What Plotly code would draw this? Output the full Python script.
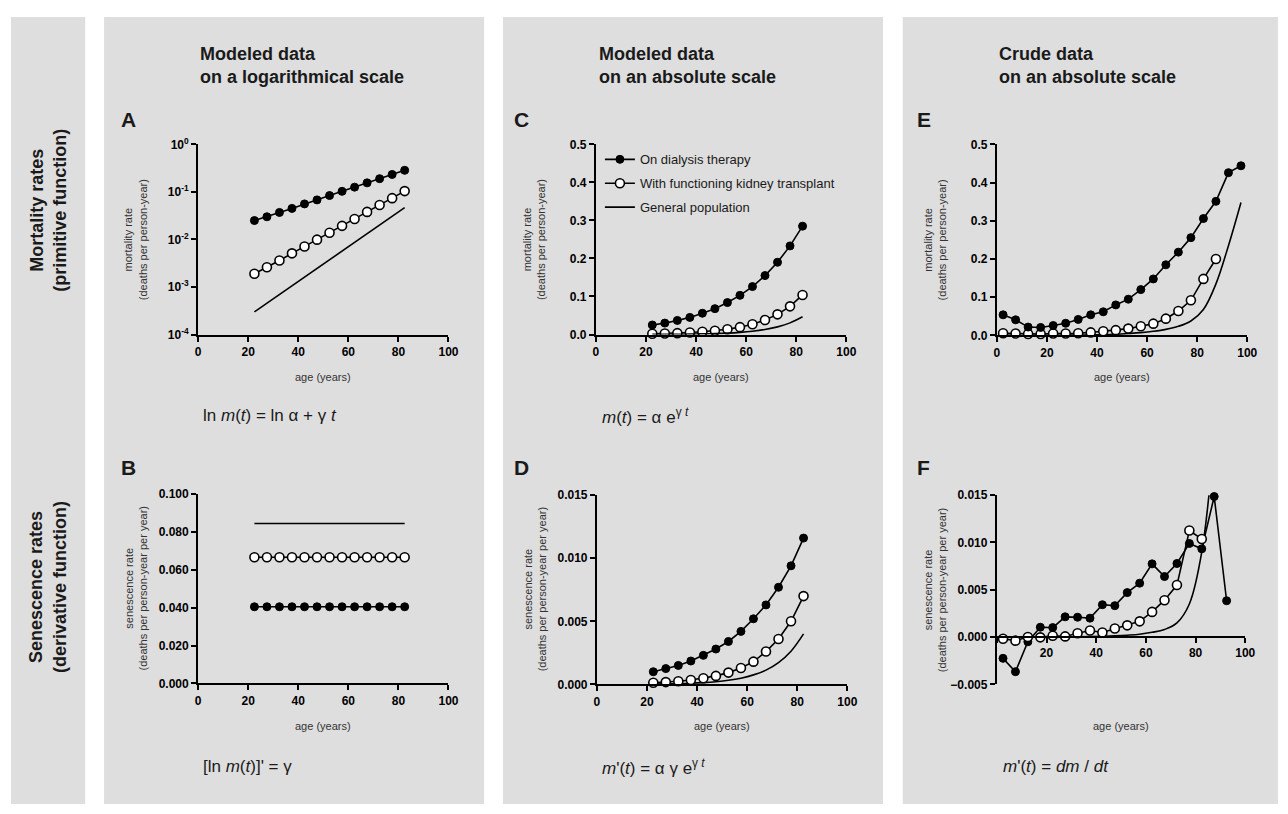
import plotly.graph_objects as go

# ---------------- data ----------------
ages_model = [22.5, 27.5, 32.5, 37.5, 42.5, 47.5, 52.5, 57.5, 62.5, 67.5, 72.5, 77.5, 82.5]

# modeled mortality rates (panels A and C)
mort_dialysis = [0.025, 0.030, 0.037, 0.045, 0.056, 0.068, 0.084, 0.103, 0.126, 0.155, 0.190, 0.233, 0.285]
mort_transplant = [0.0019, 0.0026, 0.0036, 0.0051, 0.0071, 0.0099, 0.0138, 0.0193, 0.027, 0.038, 0.053, 0.074, 0.104]
mort_general = [0.0003, 0.00046, 0.0007, 0.00106, 0.0016, 0.00245, 0.0037, 0.0057, 0.0087, 0.0132, 0.0201, 0.0306, 0.0466]

# senescence rates on log scale (panel B)
gamma_dialysis = [0.0405, 0.0405, 0.0405, 0.0405, 0.0405, 0.0405, 0.0405, 0.0405, 0.0405, 0.0405, 0.0405, 0.0405, 0.0405]
gamma_transplant = [0.0667, 0.0667, 0.0667, 0.0667, 0.0667, 0.0667, 0.0667, 0.0667, 0.0667, 0.0667, 0.0667, 0.0667, 0.0667]
gamma_general = [0.0845, 0.0845]
ages_gamma_general = [22.5, 82.5]

# modeled senescence rates (panel D)
sen_dialysis = [0.0010, 0.00125, 0.0015, 0.00185, 0.0023, 0.0028, 0.0034, 0.0042, 0.0052, 0.0063, 0.0077, 0.0094, 0.0116]
sen_transplant = [0.00013, 0.00018, 0.00025, 0.00034, 0.00048, 0.00067, 0.00093, 0.0013, 0.0018, 0.0026, 0.0036, 0.0050, 0.0070]
sen_general = [0.000026, 0.00004, 0.00006, 0.00009, 0.00014, 0.00021, 0.00032, 0.00049, 0.00075, 0.00113, 0.00173, 0.00263, 0.0040]

# crude mortality rates (panel E)
ages_crude = [2.5, 7.5, 12.5, 17.5, 22.5, 27.5, 32.5, 37.5, 42.5, 47.5,
              52.5, 57.5, 62.5, 67.5, 72.5, 77.5, 82.5, 87.5, 92.5, 97.5]
crude_dialysis = [0.054, 0.041, 0.022, 0.021, 0.026, 0.032, 0.042, 0.054, 0.062, 0.080,
                  0.095, 0.120, 0.148, 0.185, 0.218, 0.256, 0.306, 0.351, 0.426, 0.444]
ages_crude_tx = [2.5, 7.5, 12.5, 17.5, 22.5, 27.5, 32.5, 37.5, 42.5, 47.5,
                 52.5, 57.5, 62.5, 67.5, 72.5, 77.5, 82.5, 87.5]
crude_transplant = [0.006, 0.005, 0.004, 0.004, 0.005, 0.005, 0.006, 0.008, 0.011, 0.014,
                    0.018, 0.024, 0.031, 0.044, 0.064, 0.092, 0.148, 0.200]
crude_general = [0.001, 0.0002, 0.0002, 0.0005, 0.0007, 0.0008, 0.001, 0.0014, 0.0021, 0.0033,
                 0.0052, 0.0075, 0.011, 0.016, 0.024, 0.038, 0.068, 0.135, 0.235, 0.348]

# crude senescence rates (panel F)
ages_dm_dialysis = [2.5, 7.5, 12.5, 17.5, 22.5, 27.5, 32.5, 37.5, 42.5, 47.5,
                    52.5, 57.5, 62.5, 67.5, 72.5, 77.5, 82.5, 87.5, 92.5]
dm_dialysis = [-0.00225, -0.00366, -0.0005, 0.00104, 0.0010, 0.00214, 0.0021, 0.0020, 0.00342, 0.00332,
               0.0047, 0.0057, 0.00774, 0.0064, 0.00778, 0.0099, 0.00933, 0.01486, 0.00384]
ages_dm_tx = [2.5, 7.5, 12.5, 17.5, 22.5, 27.5, 32.5, 37.5, 42.5, 47.5,
              52.5, 57.5, 62.5, 67.5, 72.5, 77.5, 82.5]
dm_transplant = [-0.00017, -0.00038, 0.0, -0.00003, 0.00014, 0.00007, 0.00041, 0.00069, 0.00048, 0.0009,
                 0.00124, 0.00166, 0.00266, 0.0039, 0.0055, 0.01127, 0.01037]
ages_dm_general = [2.5, 7.5, 12.5, 17.5, 22.5, 27.5, 32.5, 37.5, 42.5, 47.5,
                   52.5, 57.5, 62.5, 67.5, 72.5, 77.5, 82.5, 87.5]
dm_general = [0.0, 0.0, 0.0, 0.0, 0.00001, 0.00002, 0.00003, 0.00005, 0.00008, 0.00013,
              0.0002, 0.0003, 0.0005, 0.0008, 0.0015, 0.0035, 0.009, 0.021]

legend_names = ["On dialysis therapy", "With functioning kidney transplant", "General population"]
column_titles = ["Modeled data<br>on a logarithmical scale",
                 "Modeled data<br>on an absolute scale",
                 "Crude data<br>on an absolute scale"]
row_titles = ["Mortality rates<br>(primitive function)",
              "Senescence rates<br>(derivative function)"]
panel_letters = ["A", "B", "C", "D", "E", "F"]
x_title = "age (years)"
y_title_mort = "mortality rate<br>(deaths per person-year)"
y_title_sen = "senescence rate<br>(deaths per person-year per year)"
formulas = ["ln <i>m</i>(<i>t</i>) = ln α + γ <i>t</i>",
            "[ln <i>m</i>(<i>t</i>)]' = γ",
            "<i>m</i>(<i>t</i>) = α e<sup>γ <i>t</i></sup>",
            "<i>m</i>'(<i>t</i>) = α γ e<sup>γ <i>t</i></sup>",
            "",
            "<i>m</i>'(<i>t</i>) = <i>dm</i> / <i>dt</i>"]

# ---------------- layout helpers ----------------
# the page keeps the browser's 8px body margin, so the figure is 16px smaller
OFF = 8
W, H = 1288 - 2 * OFF, 814 - 2 * OFF
FONT = "Liberation Sans, Arial, sans-serif"


def fx(p):
    return (p - OFF) / W


def fy(p):
    return 1 - (p - OFF) / H


# pixel boxes (page coordinates) of each plotting area: (x0, x1, ytop, ybottom)
boxes = [(197, 450, 138, 332), (197, 450, 495, 688),
         (599, 852, 138, 332), (600, 853, 496, 689),
         (1004, 1257, 138, 333), (1004, 1255, 496, 689)]

fig = go.Figure()


def add_dialysis(i, x, y, legend=False):
    fig.add_trace(go.Scatter(
        x=x, y=y, mode="lines+markers", name=legend_names[0], showlegend=legend,
        legendgroup="g1", line=dict(color="black", width=1.6),
        marker=dict(symbol="circle", size=8, color="black", line=dict(color="black", width=1)),
        cliponaxis=False, xaxis=f"x{i}", yaxis=f"y{i}"))


def add_transplant(i, x, y, legend=False):
    fig.add_trace(go.Scatter(
        x=x, y=y, mode="lines+markers", name=legend_names[1], showlegend=legend,
        legendgroup="g2", line=dict(color="black", width=1.6),
        marker=dict(symbol="circle", size=9, color="white", line=dict(color="black", width=1.6)),
        cliponaxis=False, xaxis=f"x{i}", yaxis=f"y{i}"))


def add_general(i, x, y, legend=False, shape="linear"):
    fig.add_trace(go.Scatter(
        x=x, y=y, mode="lines", name=legend_names[2], showlegend=legend,
        legendgroup="g3", line=dict(color="black", width=1.6, shape=shape),
        xaxis=f"x{i}", yaxis=f"y{i}"))


# A
add_general(1, [ages_model[0], ages_model[-1]], [mort_general[0], mort_general[-1]])
add_transplant(1, ages_model, mort_transplant)
add_dialysis(1, ages_model, mort_dialysis)
# B
add_general(2, ages_gamma_general, gamma_general)
add_transplant(2, ages_model, gamma_transplant)
add_dialysis(2, ages_model, gamma_dialysis)
# C (legend)
add_dialysis(3, ages_model, mort_dialysis, legend=True)
add_transplant(3, ages_model, mort_transplant, legend=True)
add_general(3, ages_model, mort_general, legend=True, shape="spline")
# D
add_general(4, ages_model, sen_general, shape="spline")
add_transplant(4, ages_model, sen_transplant)
add_dialysis(4, ages_model, sen_dialysis)
# E
add_general(5, ages_crude, crude_general, shape="spline")
add_transplant(5, ages_crude_tx, crude_transplant)
add_dialysis(5, ages_crude, crude_dialysis)
# F
add_general(6, ages_dm_general, dm_general, shape="spline")
add_dialysis(6, ages_dm_dialysis, dm_dialysis)
add_transplant(6, ages_dm_tx, dm_transplant)

axis_common = dict(showline=True, linecolor="black", linewidth=2, ticks="outside",
                   ticklen=5, tickwidth=2, tickcolor="black", showgrid=False,
                   zeroline=False, fixedrange=True,
                   tickfont=dict(family=FONT, size=12, color="black", weight="bold"))

ytick_specs = [
    dict(type="log", range=[-4, 0], tickvals=[1e-4, 1e-3, 1e-2, 1e-1, 1],
         ticktext=["10<sup>-4</sup>", "10<sup>-3</sup>", "10<sup>-2</sup>", "10<sup>-1</sup>", "10<sup>0</sup>"]),
    dict(range=[0, 0.1], tickvals=[0, 0.02, 0.04, 0.06, 0.08, 0.1], tickformat=".3f"),
    dict(range=[0, 0.5], tickvals=[0, 0.1, 0.2, 0.3, 0.4, 0.5], tickformat=".1f"),
    dict(range=[0, 0.015], tickvals=[0, 0.005, 0.010, 0.015], tickformat=".3f"),
    dict(range=[0, 0.5], tickvals=[0, 0.1, 0.2, 0.3, 0.4, 0.5], tickformat=".1f"),
    dict(range=[-0.005, 0.015], tickvals=[-0.005, 0, 0.005, 0.010, 0.015], tickformat=".3f"),
]

layout_axes = {}
for k, (x0, x1, yt, yb) in enumerate(boxes):
    i = k + 1
    xa = dict(axis_common, domain=[fx(x0), fx(x1)], range=[0, 100],
              tickvals=[0, 20, 40, 60, 80, 100], anchor=f"y{i}")
    if i == 6:
        zero_px = yt + (yb - yt) * (0.015 - 0) / 0.020
        xa.update(anchor="free", position=fy(zero_px),
                  ticktext=["", "20", "40", "60", "80", "100"])
    ya = dict(axis_common, domain=[fy(yb), fy(yt)], anchor=f"x{i}")
    ya.update(ytick_specs[k])
    suffix = "" if i == 1 else str(i)
    layout_axes["xaxis" + suffix] = xa
    layout_axes["yaxis" + suffix] = ya

# background panels
shapes = []
for (a, b) in [(8, 83), (102, 486), (505, 889), (909, 1288)]:
    shapes.append(dict(type="rect", xref="paper", yref="paper", x0=fx(a), x1=fx(b),
                       y0=fy(811), y1=fy(8), fillcolor="#dedede", line=dict(width=0),
                       layer="below"))

annotations = []
TXT = "#1a1a1a"
# column titles
for k, xpx in enumerate([197, 600, 1004]):
    annotations.append(dict(text="<b>" + column_titles[k] + "</b>", x=fx(xpx), y=fy(57),
                            xref="paper", yref="paper", xanchor="left", yanchor="middle",
                            align="left", showarrow=False,
                            font=dict(family=FONT, size=18, color=TXT)))
# row titles
for k, ypx in enumerate([205, 590]):
    annotations.append(dict(text="<b>" + row_titles[k] + "</b>", x=fx(45), y=fy(ypx),
                            xref="paper", yref="paper", xanchor="center", yanchor="middle",
                            textangle=-90, showarrow=False,
                            font=dict(family=FONT, size=18, color=TXT)))
# panel letters, axis titles, formulas
letter_pos = [(127, 113), (127, 468), (524, 113), (524, 468), (930, 113), (930, 468)]
ytitle_x = [134, 134, 537, 537, 941, 941]
formula_pos = [(200, 415), (200, 773), (603, 415), (603, 773), (1008, 415), (1008, 773)]
for k in range(6):
    x0, x1, yt, yb = boxes[k]
    lx, ly = letter_pos[k]
    annotations.append(dict(text="<b>" + panel_letters[k] + "</b>", x=fx(lx), y=fy(ly),
                            xref="paper", yref="paper", xanchor="center", yanchor="middle",
                            showarrow=False, font=dict(family=FONT, size=21, color=TXT)))
    top = k % 2 == 0
    annotations.append(dict(text=x_title, x=fx((x0 + x1) / 2), y=fy(375 if top else 731),
                            xref="paper", yref="paper", xanchor="center", yanchor="middle",
                            showarrow=False, font=dict(family=FONT, size=11, color="#333")))
    annotations.append(dict(text=y_title_mort if top else y_title_sen,
                            x=fx(ytitle_x[k]), y=fy((yt + yb) / 2),
                            xref="paper", yref="paper", xanchor="center", yanchor="middle",
                            textangle=-90, showarrow=False,
                            font=dict(family=FONT, size=11, color="#333")))
    if formulas[k]:
        px_, py_ = formula_pos[k]
        annotations.append(dict(text=formulas[k], x=fx(px_), y=fy(py_),
                                xref="paper", yref="paper", xanchor="left", yanchor="middle",
                                showarrow=False, font=dict(family=FONT, size=17, color=TXT)))

fig.update_layout(
    width=W, height=H, margin=dict(l=0, r=0, t=0, b=0),
    paper_bgcolor="white", plot_bgcolor="rgba(0,0,0,0)",
    shapes=shapes, annotations=annotations,
    showlegend=True,
    legend=dict(x=fx(603), y=fy(138), xanchor="left", yanchor="top",
                bgcolor="rgba(0,0,0,0)", traceorder="grouped", tracegroupgap=4,
                font=dict(family=FONT, size=13, color=TXT), itemwidth=30),
    font=dict(family=FONT),
    **layout_axes,
)

fig.write_html("out.html", config={"displayModeBar": False})
